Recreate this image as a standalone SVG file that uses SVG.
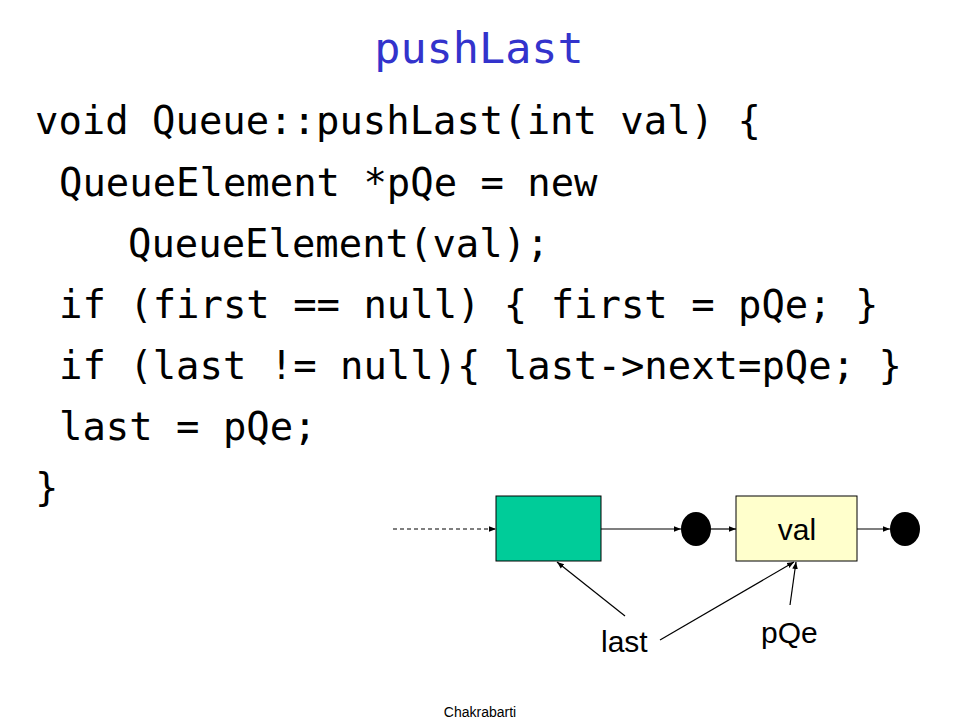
<svg xmlns="http://www.w3.org/2000/svg" width="960" height="720" viewBox="0 0 960 720">
<defs>
<style>
.code{font-family:"DejaVu Sans Mono","Liberation Mono",monospace;font-size:38.9px;fill:#000}
.lbl{font-family:"Liberation Sans",Arial,sans-serif;font-size:30px;fill:#000}
.ln{stroke:#000;stroke-width:1.2;fill:none}
</style>
<marker id="ah" viewBox="0 0 10 10" refX="10" refY="5" markerWidth="7" markerHeight="7" orient="auto" markerUnits="userSpaceOnUse">
<path d="M0,1 L10,5 L0,9 z" fill="#000"/>
</marker>
</defs>
<rect width="960" height="720" fill="#fff"/>
<text x="479" y="63" text-anchor="middle" style="font-family:'DejaVu Sans Mono','Liberation Mono',monospace;font-size:43.5px;fill:#3333CC">pushLast</text>
<g id="code">
<text class="code" x="35" y="134">void Queue::pushLast(int val) {</text>
<text class="code" x="59" y="196">QueueElement *pQe = new</text>
<text class="code" x="128" y="257">QueueElement(val);</text>
<text class="code" x="59" y="318">if (first == null) { first = pQe; }</text>
<text class="code" x="59" y="379">if (last != null){ last-&gt;next=pQe; }</text>
<text class="code" x="59" y="440">last = pQe;</text>
<text class="code" x="35" y="501">}</text>
</g>
<g id="node-last">
<rect x="496" y="496" width="105" height="65" fill="#00CC99" stroke="#000" stroke-width="1"/>
</g>
<g id="null1"><ellipse cx="696" cy="529" rx="15" ry="17" fill="#000"/></g>
<g id="node-val">
<rect x="736" y="496" width="121" height="65" fill="#FFFFCC" stroke="#000" stroke-width="1"/>
<text class="lbl" x="797" y="540" text-anchor="middle">val</text>
</g>
<g id="null2"><ellipse cx="905" cy="529" rx="15" ry="17" fill="#000"/></g>
<g id="label-last"><text class="lbl" x="601" y="652">last</text></g>
<g id="label-pqe"><text class="lbl" x="761" y="643">pQe</text></g>
<g id="connectors">
<line class="ln" x1="393" y1="529" x2="496" y2="529" stroke-dasharray="4,3" marker-end="url(#ah)"/>
<line class="ln" x1="601" y1="529" x2="681" y2="529" marker-end="url(#ah)"/>
<line class="ln" x1="711" y1="529" x2="736" y2="529" marker-end="url(#ah)"/>
<line class="ln" x1="857" y1="529" x2="890" y2="529" marker-end="url(#ah)"/>
<line class="ln" x1="625" y1="616" x2="557" y2="562" marker-end="url(#ah)"/>
<line class="ln" x1="660" y1="640" x2="794" y2="562" marker-end="url(#ah)"/>
<line class="ln" x1="790" y1="605" x2="796" y2="562" marker-end="url(#ah)"/>
</g>
<text x="480" y="717" text-anchor="middle" style="font-family:'Liberation Sans',Arial,sans-serif;font-size:14px;fill:#000">Chakrabarti</text>
</svg>
